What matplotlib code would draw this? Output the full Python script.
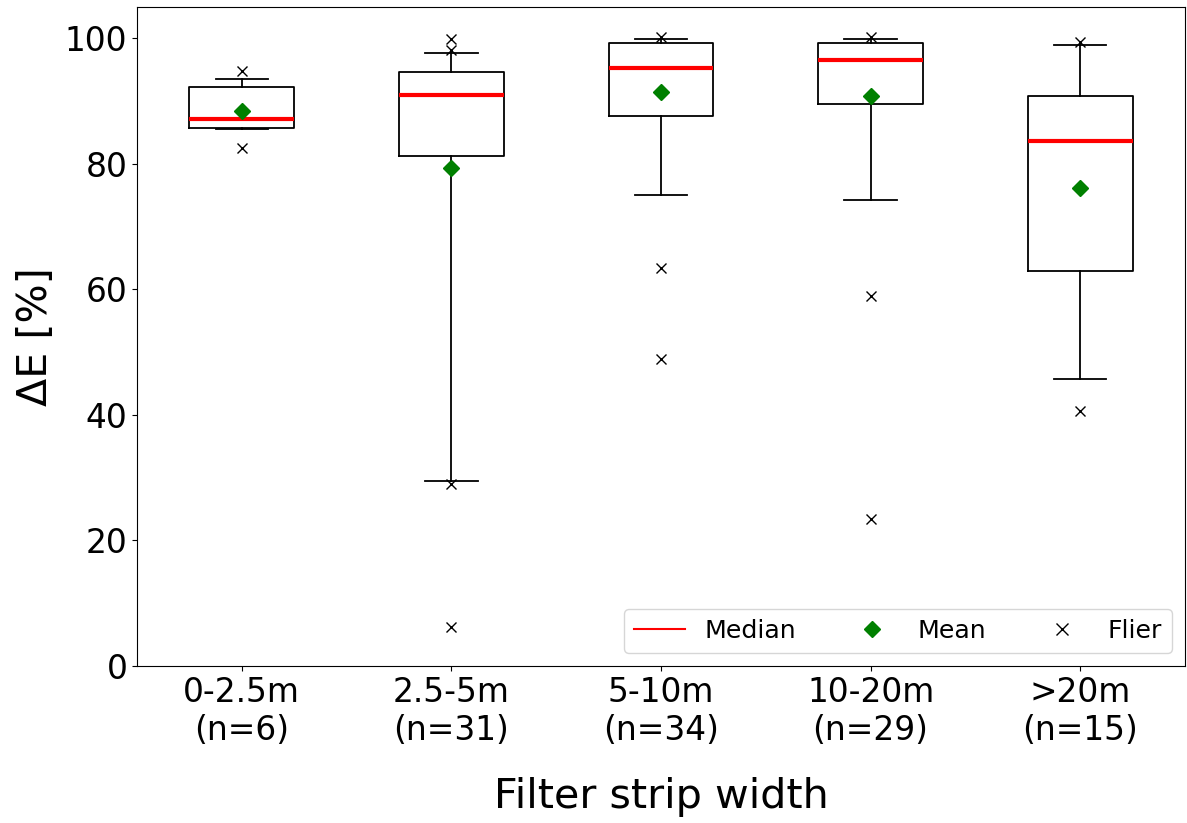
import matplotlib
matplotlib.use("Agg")
import matplotlib.pyplot as plt
from matplotlib.lines import Line2D

# Valores
etiquetas = ['0-2.5m\n(n=6)', '2.5-5m\n(n=31)', '5-10m\n(n=34)', '10-20m\n(n=29)', '>20m\n(n=15)']
medianas = [87.2, 90.9, 95.3, 96.5, 83.7]
medias = [88.4, 79.4, 91.4, 90.8, 76.2]
q1 = [85.7, 81.2, 87.7, 89.5, 63.0]
q3 = [92.2, 94.7, 99.2, 99.2, 90.8]
bigote_inf = [85.5, 29.5, 75.1, 74.2, 45.8]
bigote_sup = [93.6, 97.7, 99.9, 99.9, 99.0]
atipicos = [[94.8, 82.5],
            [99.9, 98.1, 29.0, 6.2],
            [100.2, 63.4, 48.9],
            [100.2, 58.9, 23.5],
            [99.5, 40.7]]

stats = []
for i in range(len(etiquetas)):
    stats.append({
        'label': etiquetas[i],
        'med': medianas[i],
        'mean': medias[i],
        'q1': q1[i],
        'q3': q3[i],
        'whislo': bigote_inf[i],
        'whishi': bigote_sup[i],
        'fliers': atipicos[i],
    })

fig = plt.figure(figsize=(11.87, 8.23), dpi=100)
ax = fig.add_axes([137 / 1187, 1 - 666 / 823, 1048 / 1187, 659 / 823])

ax.bxp(stats, showmeans=True, widths=0.5,
       boxprops=dict(color='black', linewidth=1.3),
       whiskerprops=dict(color='black', linewidth=1.3),
       capprops=dict(color='black', linewidth=1.3),
       medianprops=dict(color='red', linewidth=3),
       meanprops=dict(marker='D', markerfacecolor='green', markeredgecolor='green', markersize=8),
       flierprops=dict(marker='x', markeredgecolor='black', markersize=6.5, markeredgewidth=1.0))

ax.set_ylim(0, 105)
ax.set_xlim(0.5, 5.5)
ax.set_yticks([0, 20, 40, 60, 80, 100])
ax.tick_params(axis='both', labelsize=23.7)
ax.set_xlabel('Filter strip width', fontsize=29.7, labelpad=22)
ax.set_ylabel('ΔE [%]', fontsize=29.7, labelpad=6)

handles = [Line2D([], [], color='red', linewidth=1.5),
           Line2D([], [], linestyle='none', marker='D', color='green', markersize=8),
           Line2D([], [], linestyle='none', marker='x', color='black', markersize=8)]
ax.legend(handles, ['Median', 'Mean', 'Flier'], loc='lower right', ncol=3, fontsize=18.2)

fig.savefig('out.png', dpi=100)
